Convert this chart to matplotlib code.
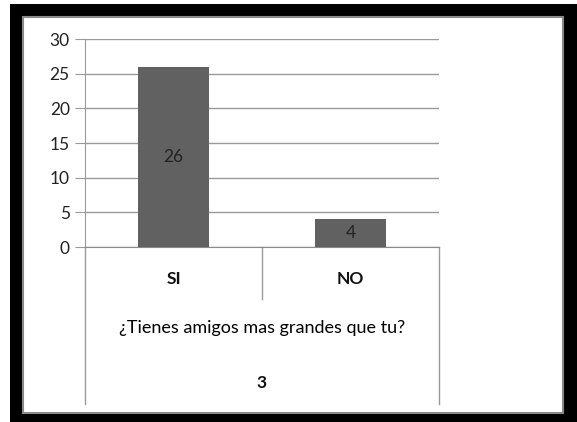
import matplotlib.pyplot as plt
from matplotlib.patches import Rectangle
from matplotlib.transforms import blended_transform_factory

categories = ['SI', 'NO']
values = [26, 4]
group_label = '¿Tienes amigos mas grandes que tu?'
question_number = '3'
y_ticks = [0, 5, 10, 15, 20, 25, 30]

W, H = 577, 422
fig = plt.figure(figsize=(W / 100, H / 100), dpi=100)
plt.rcParams['font.family'] = ['Lato', 'DejaVu Sans']

# black frame with a thin gray inner edge
fig.patches.append(Rectangle((10 / W, 0), 1 - 10 / W, 1 - 4 / H, transform=fig.transFigure,
                             facecolor='black', edgecolor='none', zorder=0))
fig.patches.append(Rectangle((23 / W, 1 - 413 / H), (563 - 23) / W, (413 - 17) / H,
                             transform=fig.transFigure, facecolor='white',
                             edgecolor='#8a8a8a', linewidth=1.5, zorder=1))

# plot area in pixels: x 85..439, y 39..247
ax = fig.add_axes([85 / W, 1 - 247 / H, (439 - 85) / W, (247 - 39) / H])
ax.set_zorder(2)
ax.patch.set_alpha(0)

x = range(len(categories))
bars = ax.bar(x, values, width=0.4, color='#616161', zorder=3)
for b, v in zip(bars, values):
    ax.text(b.get_x() + b.get_width() / 2, v / 2, str(v), ha='center', va='center',
            fontsize=12.5, color='#222222', zorder=4)

ax.set_xlim(-0.5, len(categories) - 0.5)
ax.set_ylim(0, 30)
ax.set_yticks(y_ticks)
ax.set_yticklabels([str(t) for t in y_ticks], fontsize=12.5, color='#222222')
ax.yaxis.grid(True, color='#9a9a9a', linewidth=1)
ax.set_axisbelow(True)
ax.set_xticks([])
ax.tick_params(axis='y', length=7, color='#9a9a9a', pad=4)
for s in ['top', 'right']:
    ax.spines[s].set_visible(False)
ax.spines['left'].set_color('#9a9a9a')
ax.spines['bottom'].set_color('#8a8a8a')

# multi-level category axis below the plot
tr = blended_transform_factory(ax.transData, ax.transAxes)
px = 1 / (247 - 39)
line_kw = dict(color='#9a9a9a', linewidth=1, transform=tr, clip_on=False)
ax.plot([-0.5, -0.5], [0, -(404 - 247) * px], **line_kw)
ax.plot([len(categories) - 0.5] * 2, [0, -(404 - 247) * px], **line_kw)
for i in range(len(categories) - 1):
    ax.plot([i + 0.5] * 2, [0, -(299 - 247) * px], **line_kw)

for i, c in enumerate(categories):
    ax.text(i, -(279 - 247) * px, c, transform=tr, ha='center', va='center',
            fontsize=12.5, fontweight='bold', color='#111111')
mid = (len(categories) - 1) / 2
ax.text(mid, -(328 - 247) * px, group_label, transform=tr, ha='center', va='center',
        fontsize=13, color='#000000')
ax.text(mid, -(383 - 247) * px, question_number, transform=tr, ha='center', va='center',
        fontsize=12.5, fontweight='bold', color='#111111')

fig.savefig('out.png', dpi=100)
